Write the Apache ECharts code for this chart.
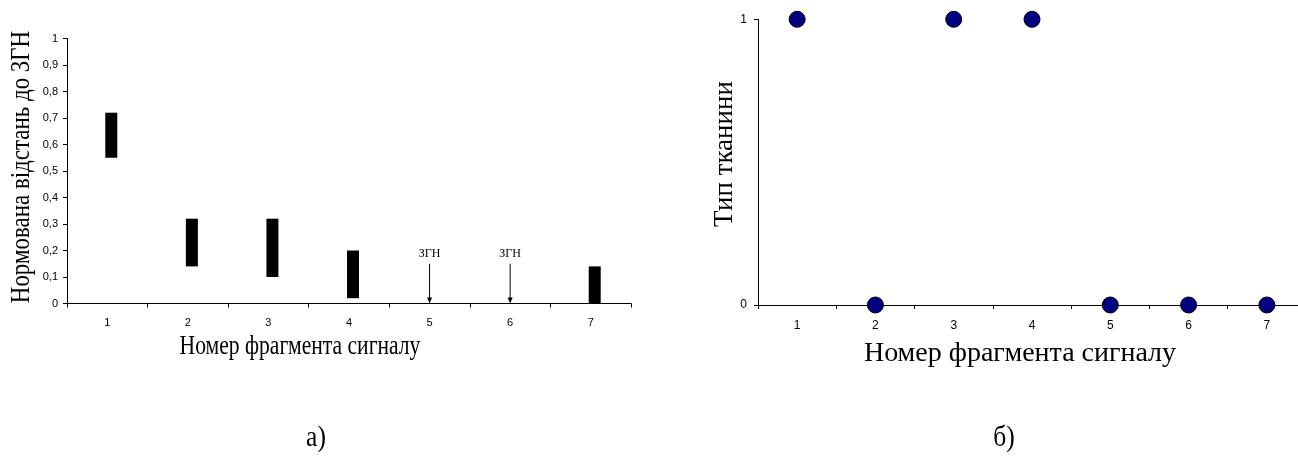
<!DOCTYPE html>
<html>
<head>
<meta charset="utf-8">
<script src="https://cdn.jsdelivr.net/npm/echarts@6/dist/echarts.min.js"></script>
<style>
html,body{margin:0;padding:0;background:#fff;overflow:hidden;width:1298px;height:458px;}
#chart{width:1310px;height:458px;}
</style>
</head>
<body>
<div id="chart"></div>
<script>
// ---- data ----
const categories = ['1', '2', '3', '4', '5', '6', '7'];
const distanceLow = [0.55, 0.14, 0.10, 0.02, null, null, 0];
const distanceHigh = [0.72, 0.32, 0.32, 0.20, null, null, 0.14];
const markerCategories = ['5', '6'];
const markerTop = [0.15, 0.15];
const markerLabel = 'ЗГН';
const tissueType = [1, 0, 1, 1, 0, 0, 0];

const leftXTitle = 'Номер фрагмента сигналу';
const leftYTitle = 'Нормована відстань до ЗГН';
const rightXTitle = 'Номер фрагмента сигналу';
const rightYTitle = 'Тип тканини';
const panelLabels = ['а)', 'б)'];

// ---- build ----
const rangeData = categories.map((c, i) => [i, distanceLow[i], distanceHigh[i]])
  .filter(d => d[1] != null && d[2] != null);
const markerData = markerCategories.map((c, i) => [categories.indexOf(c), markerTop[i]]);

const sans = '"Liberation Sans", Arial, sans-serif';
const serif = '"Liberation Serif", "Times New Roman", serif';
const axisLineStyle = { color: '#000', width: 1 };

const chart = echarts.init(document.getElementById('chart'), null, { renderer: 'canvas' });

const option = {
  backgroundColor: '#fff',
  animation: false,
  grid: [
    { left: 67, top: 38.5, width: 564, height: 265 },
    { left: 758, top: 19.3, width: 548, height: 285.7 }
  ],
  xAxis: [
    {
      gridIndex: 0, type: 'category', data: categories,
      axisLine: { lineStyle: axisLineStyle },
      axisTick: { show: true, length: 4, lineStyle: axisLineStyle },
      axisLabel: { color: '#000', fontFamily: sans, fontSize: 11, margin: 14 },
      splitLine: { show: false }
    },
    {
      gridIndex: 1, type: 'category', data: categories,
      axisLine: { lineStyle: axisLineStyle },
      axisTick: { show: true, length: 4, lineStyle: axisLineStyle },
      axisLabel: { color: '#000', fontFamily: sans, fontSize: 12, margin: 15 },
      splitLine: { show: false }
    }
  ],
  yAxis: [
    {
      gridIndex: 0, type: 'value', min: 0, max: 1, interval: 0.1,
      axisLine: { show: true, lineStyle: axisLineStyle },
      axisTick: { show: true, length: 4, lineStyle: axisLineStyle },
      axisLabel: {
        color: '#000', fontFamily: sans, fontSize: 11, margin: 9,
        formatter: v => String(Math.round(v * 10) / 10).replace('.', ',')
      },
      splitLine: { show: false }
    },
    {
      gridIndex: 1, type: 'value', min: 0, max: 1, interval: 1,
      axisLine: { show: true, lineStyle: axisLineStyle },
      axisTick: { show: true, length: 4, lineStyle: axisLineStyle },
      axisLabel: { color: '#000', fontFamily: sans, fontSize: 12, margin: 11 },
      splitLine: { show: false }
    }
  ],
  series: [
    {
      type: 'custom', xAxisIndex: 0, yAxisIndex: 0,
      data: rangeData,
      encode: { x: 0, y: [1, 2] },
      renderItem: function (params, api) {
        const hi = api.coord([api.value(0), api.value(2)]);
        const lo = api.coord([api.value(0), api.value(1)]);
        return {
          type: 'rect',
          shape: { x: hi[0] + 4 - 6, y: hi[1], width: 12, height: lo[1] - hi[1] },
          style: { fill: '#000' }
        };
      }
    },
    {
      type: 'custom', xAxisIndex: 0, yAxisIndex: 0,
      data: markerData,
      encode: { x: 0, y: 1 },
      renderItem: function (params, api) {
        const top = api.coord([api.value(0), api.value(1)]);
        const base = api.coord([api.value(0), 0]);
        return {
          type: 'group',
          children: [
            { type: 'line', shape: { x1: top[0], y1: top[1], x2: base[0], y2: base[1] - 4 },
              style: { stroke: '#000', lineWidth: 1 } },
            { type: 'polygon', shape: { points: [[base[0] - 2.5, base[1] - 6], [base[0] + 2.5, base[1] - 6], [base[0], base[1]]] },
              style: { fill: '#000' } },
            { type: 'text', x: top[0], y: top[1] - 4,
              style: { text: markerLabel, font: '12px ' + serif, fill: '#000', textAlign: 'center', textVerticalAlign: 'bottom' } }
          ]
        };
      }
    },
    {
      type: 'scatter', xAxisIndex: 1, yAxisIndex: 1,
      data: tissueType,
      symbol: 'circle', symbolSize: 16,
      itemStyle: { color: '#000080', borderColor: '#000', borderWidth: 1, opacity: 1 },
      clip: false
    }
  ],
  graphic: [
    { type: 'text', x: 300, y: 347, scaleX: 0.8,
      style: { text: leftXTitle, font: '27px ' + serif, fill: '#000', textAlign: 'center', textVerticalAlign: 'middle' } },
    { type: 'text', x: 22, y: 167, rotation: Math.PI / 2, scaleX: 0.85,
      style: { text: leftYTitle, font: '27px ' + serif, fill: '#000', textAlign: 'center', textVerticalAlign: 'middle' } },
    { type: 'text', x: 1020, y: 354,
      style: { text: rightXTitle, font: '28px ' + serif, fill: '#000', textAlign: 'center', textVerticalAlign: 'middle' } },
    { type: 'text', x: 725, y: 154, rotation: Math.PI / 2,
      style: { text: rightYTitle, font: '27px ' + serif, fill: '#000', textAlign: 'center', textVerticalAlign: 'middle' } },
    { type: 'text', x: 316, y: 438, scaleX: 0.85,
      style: { text: panelLabels[0], font: '30px ' + serif, fill: '#000', textAlign: 'center', textVerticalAlign: 'middle' } },
    { type: 'text', x: 1004, y: 438, scaleX: 0.85,
      style: { text: panelLabels[1], font: '30px ' + serif, fill: '#000', textAlign: 'center', textVerticalAlign: 'middle' } }
  ]
};
chart.setOption(option);
</script>
</body>
</html>
